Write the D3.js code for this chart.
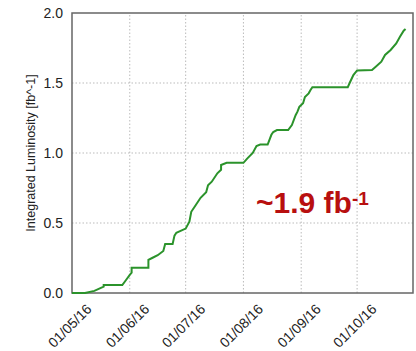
<!DOCTYPE html>
<html><head><meta charset="utf-8">
<script src="https://cdn.jsdelivr.net/npm/d3@7"></script>
<style>body{margin:0;background:#fff}svg{display:block}</style>
</head><body>
<script>
const dates = ["2016-05-01","2016-05-08","2016-05-13","2016-05-18","2016-05-18","2016-05-28","2016-05-30","2016-06-01","2016-06-02","2016-06-02","2016-06-11","2016-06-11","2016-06-13","2016-06-16","2016-06-19","2016-06-20","2016-06-24","2016-06-25","2016-06-26","2016-07-01","2016-07-03","2016-07-04","2016-07-06","2016-07-09","2016-07-12","2016-07-13","2016-07-15","2016-07-18","2016-07-20","2016-07-20","2016-07-23","2016-08-01","2016-08-03","2016-08-06","2016-08-08","2016-08-10","2016-08-14","2016-08-16","2016-08-17","2016-08-19","2016-08-25","2016-08-27","2016-08-29","2016-08-30","2016-08-31","2016-09-02","2016-09-03","2016-09-05","2016-09-06","2016-09-07","2016-09-26","2016-09-27","2016-09-29","2016-10-01","2016-10-09","2016-10-11","2016-10-14","2016-10-16","2016-10-19","2016-10-22","2016-10-24","2016-10-26","2016-10-27"];
const lumi = [0,0,0.015,0.045,0.057,0.057,0.093,0.13,0.145,0.18,0.18,0.236,0.25,0.27,0.30,0.35,0.35,0.41,0.43,0.46,0.51,0.58,0.62,0.68,0.72,0.77,0.795,0.855,0.88,0.914,0.93,0.93,0.96,1.0,1.05,1.06,1.06,1.13,1.15,1.164,1.164,1.2,1.27,1.295,1.33,1.355,1.40,1.426,1.45,1.47,1.47,1.50,1.557,1.59,1.593,1.616,1.652,1.70,1.736,1.783,1.83,1.874,1.886];
const xTickDates = ["2016-05-01","2016-06-01","2016-07-01","2016-08-01","2016-09-01","2016-10-01"];
const xTickLabels = ["01/05/16","01/06/16","01/07/16","01/08/16","01/09/16","01/10/16"];
const yTicks = [0,0.5,1.0,1.5,2.0];
const yTitle = "Integrated Luminosity [fb^-1]";
const annotationMain = "~1.9 fb";
const annotationSup = "-1";

const W = 416, H = 351;
const m = {left:72, right:3, top:13, bottom:58};
const parse = d3.utcParse("%Y-%m-%d");
const data = dates.map((d,i)=>({t:parse(d), v:lumi[i]}));

const svg = d3.select("body").append("svg").attr("width",W).attr("height",H);
const x = d3.scaleUtc().domain([parse("2016-05-01"), parse("2016-10-31")]).range([m.left, W-m.right]);
const y = d3.scaleLinear().domain([0,2]).range([H-m.bottom, m.top]);

const font = "Liberation Sans, Arial, sans-serif";

// grid
svg.append("g").selectAll("line").data(xTickDates.slice(1)).join("line")
  .attr("x1",d=>x(parse(d))).attr("x2",d=>x(parse(d)))
  .attr("y1",y(0)).attr("y2",y(2))
  .attr("stroke","#bbb").attr("stroke-width",1).attr("stroke-dasharray","1.5,2");
svg.append("g").selectAll("line").data(yTicks.filter(v=>v>0&&v<2)).join("line")
  .attr("x1",x.range()[0]).attr("x2",x.range()[1])
  .attr("y1",d=>y(d)).attr("y2",d=>y(d))
  .attr("stroke","#bbb").attr("stroke-width",1).attr("stroke-dasharray","1.5,2");

// y axis
const yAxis = svg.append("g").attr("transform",`translate(${m.left},0)`)
  .call(d3.axisLeft(y).tickValues(yTicks).tickFormat(d3.format(".1f")).tickSize(0).tickPadding(9));
yAxis.select(".domain").remove();
yAxis.selectAll("text").attr("font-family",font).attr("font-size",14).attr("fill","#222");

// x axis
const xAxis = svg.append("g").attr("transform",`translate(0,${y(0)})`)
  .call(d3.axisBottom(x).tickValues(xTickDates.map(parse)).tickFormat((d,i)=>xTickLabels[i]).tickSize(0));
xAxis.select(".domain").remove();
xAxis.selectAll("text").attr("font-family",font).attr("font-size",14).attr("fill","#222")
  .attr("text-anchor","end").attr("dy",0).attr("y",0)
  .attr("transform","translate(20,17) rotate(-45)");

// frame
svg.append("rect").attr("x",x.range()[0]).attr("y",y(2))
  .attr("width",x.range()[1]-x.range()[0]).attr("height",y(0)-y(2))
  .attr("fill","none").attr("stroke","#666").attr("stroke-width",1.5);

// line
svg.append("path").datum(data)
  .attr("d", d3.line().x(d=>x(d.t)).y(d=>y(d.v)))
  .attr("fill","none").attr("stroke","#2b932b").attr("stroke-width",2);

// y title
svg.append("text").attr("transform",`translate(35,${(y(0)+y(2))/2}) rotate(-90)`)
  .attr("text-anchor","middle").attr("font-family",font).attr("font-size",12.5).attr("fill","#222")
  .text(yTitle);

// annotation
const ann = svg.append("text").attr("x",256).attr("y",213)
  .attr("font-family",font).attr("font-weight","bold").attr("font-size",30).attr("fill","#b80f0f");
ann.append("tspan").text(annotationMain);
ann.append("tspan").attr("font-size",19).attr("dy",-8).text(annotationSup);
</script>
</body></html>
